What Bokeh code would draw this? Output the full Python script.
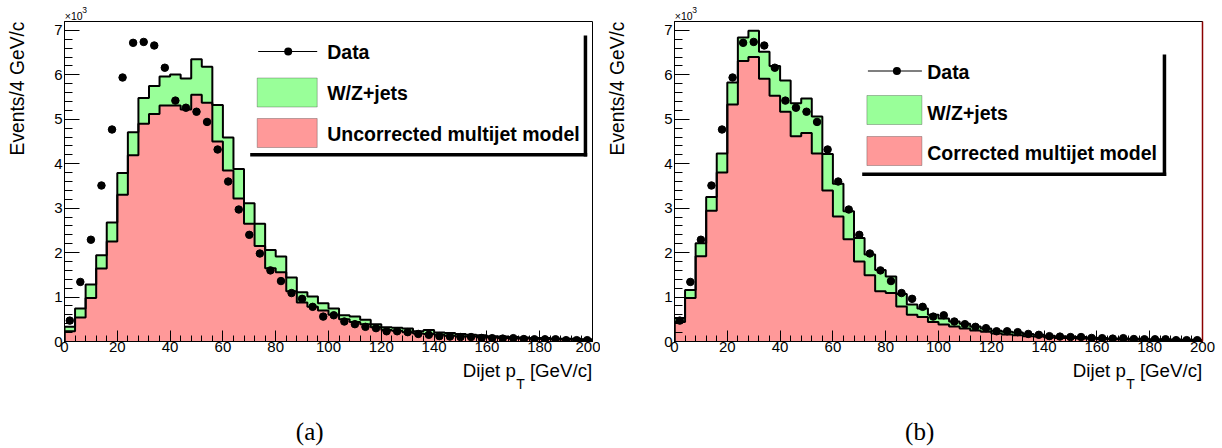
import math
import numpy as np
from bokeh.plotting import figure
from bokeh.models import Range1d, SingleIntervalTicker, FixedTicker, LinearAxis, Label, BoxAnnotation
from bokeh.layouts import row, column
from bokeh.embed import file_html
from bokeh.resources import INLINE

# ---------------- data (units of 10^3 events per 4 GeV/c bin) ----------------
BIN_WIDTH = 4.0
X_MIN, X_MAX = 0.0, 200.0
Y_MIN, Y_MAX = 0.0, 7.2

data_counts = [0.47, 1.34, 2.29, 3.51, 4.77, 5.94, 6.72, 6.74, 6.66, 6.16,
               5.42, 5.26, 5.17, 4.94, 4.32, 3.60, 2.97, 2.40, 1.98, 1.60,
               1.36, 1.09, 0.96, 0.78, 0.56, 0.59, 0.45, 0.39, 0.33, 0.30,
               0.23, 0.23, 0.21, 0.17, 0.15, 0.12, 0.11, 0.10, 0.10, 0.08,
               0.075, 0.065, 0.075, 0.055, 0.05, 0.05, 0.05, 0.03, 0.03, 0.03]

multijet_uncorrected = [0.23, 0.54, 0.98, 1.64, 2.25, 3.30, 4.19, 4.90, 5.12, 5.31,
                        5.31, 5.22, 5.55, 5.37, 4.50, 3.85, 3.22, 2.65, 2.15, 1.65,
                        1.56, 1.13, 0.88, 0.78, 0.70, 0.60, 0.50, 0.44, 0.39, 0.32,
                        0.26, 0.24, 0.21, 0.18, 0.17, 0.15, 0.13, 0.12, 0.11, 0.10,
                        0.09, 0.08, 0.07, 0.065, 0.06, 0.055, 0.05, 0.045, 0.04, 0.035]

wz_jets_a = [0.10, 0.20, 0.30, 0.30, 0.43, 0.49, 0.52, 0.58, 0.63, 0.65,
             0.70, 0.70, 0.80, 0.81, 0.82, 0.74, 0.66, 0.46, 0.50, 0.41,
             0.35, 0.31, 0.23, 0.23, 0.16, 0.14, 0.09, 0.12, 0.10, 0.07,
             0.06, 0.07, 0.08, 0.05, 0.09, 0.05, 0.06, 0.05, 0.04, 0.04,
             0.03, 0.03, 0.03, 0.025, 0.02, 0.025, 0.02, 0.015, 0.02, 0.015]

multijet_corrected = [0.44, 0.98, 1.92, 2.94, 3.80, 5.33, 6.31, 6.40, 5.91, 5.53,
                      5.17, 4.62, 4.69, 4.23, 3.40, 2.81, 2.30, 1.80, 1.49, 1.13,
                      1.09, 0.79, 0.60, 0.55, 0.44, 0.38, 0.34, 0.29, 0.25, 0.22,
                      0.18, 0.16, 0.14, 0.12, 0.11, 0.09, 0.08, 0.08, 0.07, 0.06,
                      0.05, 0.05, 0.045, 0.04, 0.04, 0.035, 0.03, 0.03, 0.025, 0.025]

wz_jets_b = [0.09, 0.18, 0.29, 0.31, 0.43, 0.50, 0.53, 0.59, 0.61, 0.67,
             0.70, 0.74, 0.78, 0.83, 0.82, 0.74, 0.63, 0.53, 0.47, 0.48,
             0.37, 0.28, 0.23, 0.19, 0.16, 0.14, 0.11, 0.11, 0.09, 0.07,
             0.06, 0.06, 0.06, 0.05, 0.04, 0.04, 0.04, 0.03, 0.03, 0.03,
             0.03, 0.02, 0.025, 0.02, 0.02, 0.015, 0.02, 0.015, 0.015, 0.015]

legend_labels = ["Data", "W/Z+jets"]
model_labels = ["Uncorrected multijet model", "Corrected multijet model"]
panel_captions = ["(a)", "(b)"]
x_title = ["Dijet p", "T", "[GeV/c]"]
y_title = "Events/4 GeV/c"

GREEN = "#99ff99"
RED = "#ff9999"
SANS = "Liberation Sans"
SERIF = "Liberation Serif"

FRAME_W, FRAME_H = 528, 320
TOP_H = 20          # strip above the frames
MID_H = 341         # row holding the two frames
BOT_H = 87          # strip below
TOTAL_W = 1222
YSTRIP_W = 40
PANEL_SHIFT = 610   # horizontal offset between the two panels


def strip(width, height, y_range=None):
    s = figure(width=width, height=height, output_backend="svg", toolbar_location=None,
               x_range=Range1d(0, width),
               y_range=y_range if y_range is not None else Range1d(0, height),
               x_axis_location=None, y_axis_location=None,
               min_border=0, min_border_left=0, min_border_right=0,
               min_border_top=0, min_border_bottom=0,
               outline_line_color=None, background_fill_color="white",
               border_fill_color="white")
    s.xgrid.visible = False
    s.ygrid.visible = False
    return s


def label(fig, x, y, t, size, align="left", style="normal", angle=0.0,
          font=SANS, y_units="screen"):
    fig.add_layout(Label(x=x, y=y, x_units="screen", y_units=y_units,
                         text=t, text_font=font, text_font_size=size,
                         text_font_style=style, text_align=align,
                         text_baseline="middle", angle=angle, text_color="black"))


def staircase(edges, vals):
    xs = np.repeat(edges, 2)
    ys = np.concatenate([[0.0], np.repeat(vals, 2), [0.0]])
    return xs, ys


def make_panel(mj, wz, model_label, width, left, lg, right_color):
    mj = np.asarray(mj)
    wz = np.asarray(wz)
    tot = mj + wz
    dat = np.asarray(data_counts)
    n = len(dat)
    edges = X_MIN + BIN_WIDTH * np.arange(n + 1)
    lo, hi = edges[:-1], edges[1:]
    ctr = 0.5 * (lo + hi)

    p = figure(width=width, height=MID_H, output_backend="svg", toolbar_location=None,
               x_range=Range1d(X_MIN, X_MAX), y_range=Range1d(Y_MIN, Y_MAX),
               min_border_left=left, min_border_right=width - left - FRAME_W,
               min_border_top=1, min_border_bottom=MID_H - 1 - FRAME_H,
               background_fill_color="white", border_fill_color="white",
               outline_line_color="black", outline_line_width=1)
    p.xgrid.visible = False
    p.ygrid.visible = False

    xs, ys_mj = staircase(edges, mj)
    _, ys_tot = staircase(edges, tot)
    # fills
    p.varea(x=xs, y1=np.zeros_like(ys_mj), y2=ys_mj, fill_color=RED)
    p.varea(x=xs, y1=ys_mj, y2=ys_tot, fill_color=GREEN)
    # outlines
    p.line(xs, ys_tot, line_color="black", line_width=2)
    p.line(xs, ys_mj, line_color="black", line_width=2)
    # data
    p.segment(x0=lo + 0.6, x1=hi - 0.6, y0=dat, y1=dat, line_color="black", line_width=1)
    p.scatter(ctr, dat, size=7.5, marker="circle", fill_color="black", line_color="black")

    # axes (ticks inside the frame, ROOT style)
    for ax in p.xaxis:
        ax.ticker = SingleIntervalTicker(interval=20, num_minor_ticks=5)
        ax.major_tick_in = 11
        ax.major_tick_out = 0
        ax.minor_tick_in = 6
        ax.minor_tick_out = 0
        ax.major_label_standoff = 0
    for ax in p.yaxis:
        ax.ticker = SingleIntervalTicker(interval=1, num_minor_ticks=5)
        ax.major_tick_in = 15
        ax.major_tick_out = 0
        ax.minor_tick_in = 8
        ax.minor_tick_out = 0
        ax.major_label_standoff = 2
    for ax in p.axis:
        ax.axis_line_color = "black"
        ax.major_tick_line_color = "black"
        ax.minor_tick_line_color = "black"
        ax.major_label_text_font = SANS
        ax.major_label_text_font_size = "15px"
        ax.major_label_text_color = "black"
    if right_color != "black":
        right_ax = LinearAxis(ticker=FixedTicker(ticks=[]), axis_line_color=right_color,
                              axis_line_width=1.5, major_label_standoff=0)
        p.add_layout(right_ax, "right")

    def sy(dy):
        return FRAME_H - dy

    def box(l, r, t, b, fill, line=None, radius=0):
        kw = dict(left=l, right=r, top=sy(t), bottom=sy(b),
                  left_units="screen", right_units="screen",
                  top_units="screen", bottom_units="screen",
                  fill_color=fill, fill_alpha=1.0, level="overlay")
        if line is None:
            kw.update(line_color=None)
        else:
            kw.update(line_color=line, line_width=1)
        if radius:
            kw.update(border_radius=int(radius))
        p.add_layout(BoxAnnotation(**kw))

    # legend
    box(lg["sh_l"], lg["sh_r"], lg["sh_b"] - 3.5, lg["sh_b"], "black")
    box(lg["sh_r"] - 3.5, lg["sh_r"], lg["sh_t"], lg["sh_b"], "black")
    box(lg["bx_l"] + 1, lg["bx_r"], lg["d_y"] - 0.5, lg["d_y"] + 0.5, "black")
    box(lg["dot_x"] - 4, lg["dot_x"] + 4, lg["d_y"] - 4, lg["d_y"] + 4, "black", radius=4)
    box(lg["bx_l"], lg["bx_r"], lg["g_t"], lg["g_t"] + 29, GREEN, line="#222222")
    box(lg["bx_l"], lg["bx_r"], lg["r_t"], lg["r_t"] + 29, RED, line="#222222")
    label(p, lg["tx"], sy(lg["t1"]), legend_labels[0], "19.5px", style="bold")
    label(p, lg["tx"], sy(lg["t2"]), legend_labels[1], "19.5px", style="bold")
    label(p, lg["tx"], sy(lg["t3"]), model_label, "19.5px", style="bold")
    return p


legend_a = dict(sh_l=185.7, sh_r=522.7, sh_t=14, sh_b=135,
                d_y=30, dot_x=223.7, bx_l=192.7, bx_r=252.7,
                g_t=56.5, r_t=97, tx=262.7, t1=30.0, t2=71.0, t3=112.0)
legend_b = dict(sh_l=187.7, sh_r=491.7, sh_t=33, sh_b=154.5,
                d_y=49.5, dot_x=222.4, bx_l=192.4, bx_r=247.4,
                g_t=74, r_t=115, tx=252.7, t1=50.0, t2=91.0, t3=131.0)

# panel (a): page x 40..600, frame 64..592 ; panel (b): page x 640..1222, frame 674..1202
pa = make_panel(multijet_uncorrected, wz_jets_a, model_labels[0], 560, 24, legend_a, "black")
pb = make_panel(multijet_corrected, wz_jets_b, model_labels[1], 582, 34, legend_b, "#8b0000")

# y-axis titles (rotated, right-aligned to the top of the frame)
ys_a = strip(YSTRIP_W, MID_H, y_range=Range1d(Y_MIN, Y_MAX))
ys_b = strip(YSTRIP_W, MID_H, y_range=Range1d(Y_MIN, Y_MAX))
for s in (ys_a, ys_b):
    label(s, 17.0, Y_MAX, y_title, "19.3px", align="right", angle=math.pi / 2, y_units="data")

top = strip(TOTAL_W, TOP_H)
bottom = strip(TOTAL_W, BOT_H)
for k in range(2):
    off = k * PANEL_SHIFT
    # exponent above each frame
    label(top, 64.3 + off, TOP_H - 15.0, "\u00d710", "10.5px")
    label(top, 81.8 + off, TOP_H - 9.2, "3", "8.5px")
    # x-axis title, right-aligned at the frame's right edge
    label(bottom, 591.7 + off, 448 - 369.5, x_title[2], "18.7px", align="right")
    label(bottom, 515.8 + off, 448 - 383.7, x_title[1], "14px")
    label(bottom, 515.3 + off, 448 - 369.5, x_title[0], "18.7px", align="right")
    # caption
    label(bottom, 309.2 + off, 448 - 431.0, panel_captions[k], "25px", align="center", font=SERIF)

layout = column(top, row(ys_a, pa, ys_b, pb), bottom)
open("out.html", "w").write(file_html(layout, INLINE))
